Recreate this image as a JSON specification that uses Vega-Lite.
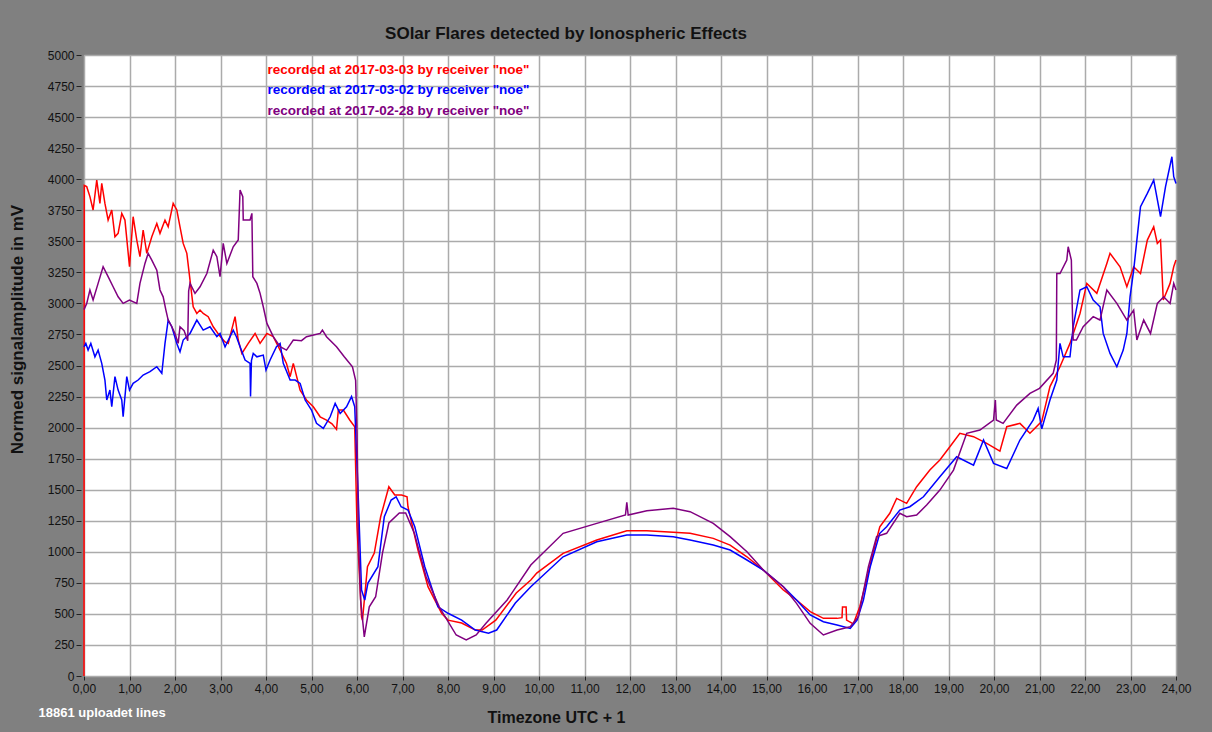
{
  "$schema": "https://vega.github.io/schema/vega-lite/v6.json",
  "autosize": "none",
  "width": 1092,
  "height": 621,
  "padding": {"left": 84, "top": 55, "right": 36, "bottom": 56},
  "background": "#808080",
  "view": {"fill": "white", "stroke": "#9a9a9a"},
  "title": {
    "text": "SOlar Flares detected by Ionospheric Effects",
    "font": "Liberation Sans", "fontSize": 17, "fontWeight": "bold", "color": "#111111",
    "anchor": "middle", "frame": "group", "dx": -64, "offset": 6
  },
  "datasets": {
    "red": [
      {"t":0,"mv":0},{"t":0.005,"mv":3950},{"t":0.06,"mv":3940},{"t":0.13,"mv":3860},{"t":0.2,"mv":3752},{"t":0.28,"mv":3993},{"t":0.35,"mv":3805},{"t":0.39,"mv":3966},{"t":0.46,"mv":3805},{"t":0.53,"mv":3671},{"t":0.61,"mv":3752},{"t":0.68,"mv":3537},{"t":0.75,"mv":3564},{"t":0.83,"mv":3725},{"t":0.9,"mv":3671},{"t":1.0,"mv":3295},{"t":1.08,"mv":3698},{"t":1.16,"mv":3510},{"t":1.23,"mv":3376},{"t":1.3,"mv":3591},{"t":1.38,"mv":3403},{"t":1.49,"mv":3537},{"t":1.6,"mv":3644},{"t":1.67,"mv":3564},{"t":1.78,"mv":3671},{"t":1.85,"mv":3617},{"t":1.96,"mv":3805},{"t":2.04,"mv":3752},{"t":2.11,"mv":3617},{"t":2.18,"mv":3483},{"t":2.26,"mv":3403},{"t":2.33,"mv":3188},{"t":2.4,"mv":2973},{"t":2.48,"mv":2919},{"t":2.55,"mv":2946},{"t":2.62,"mv":2919},{"t":2.73,"mv":2893},{"t":2.84,"mv":2812},{"t":2.99,"mv":2735},{"t":3.1,"mv":2690},{"t":3.17,"mv":2678},{"t":3.32,"mv":2893},{"t":3.39,"mv":2705},{"t":3.47,"mv":2597},{"t":3.61,"mv":2678},{"t":3.76,"mv":2758},{"t":3.87,"mv":2678},{"t":4.02,"mv":2758},{"t":4.16,"mv":2732},{"t":4.31,"mv":2624},{"t":4.45,"mv":2517},{"t":4.53,"mv":2410},{"t":4.6,"mv":2517},{"t":4.75,"mv":2302},{"t":4.89,"mv":2222},{"t":5.04,"mv":2168},{"t":5.19,"mv":2087},{"t":5.33,"mv":2061},{"t":5.45,"mv":2030},{"t":5.55,"mv":1985},{"t":5.59,"mv":2141},{"t":5.7,"mv":2141},{"t":5.84,"mv":2061},{"t":5.95,"mv":2007},{"t":6.0,"mv":1202},{"t":6.1,"mv":477},{"t":6.12,"mv":450},{"t":6.23,"mv":880},{"t":6.38,"mv":990},{"t":6.52,"mv":1282},{"t":6.7,"mv":1524},{"t":6.83,"mv":1457},{"t":6.98,"mv":1457},{"t":7.1,"mv":1443},{"t":7.12,"mv":1363},{"t":7.34,"mv":1014},{"t":7.56,"mv":719},{"t":7.86,"mv":505},{"t":8.0,"mv":450},{"t":8.3,"mv":427},{"t":8.6,"mv":370},{"t":8.75,"mv":370},{"t":9.05,"mv":450},{"t":9.5,"mv":668},{"t":9.82,"mv":773},{"t":9.95,"mv":829},{"t":10.53,"mv":988},{"t":11.27,"mv":1095},{"t":11.93,"mv":1170},{"t":12.37,"mv":1170},{"t":12.95,"mv":1157},{"t":13.32,"mv":1149},{"t":13.83,"mv":1108},{"t":14.2,"mv":1054},{"t":14.57,"mv":960},{"t":14.93,"mv":853},{"t":15.37,"mv":692},{"t":15.66,"mv":612},{"t":15.96,"mv":518},{"t":16.25,"mv":464},{"t":16.55,"mv":464},{"t":16.66,"mv":470},{"t":16.67,"mv":555},{"t":16.75,"mv":555},{"t":16.76,"mv":450},{"t":16.91,"mv":420},{"t":17.05,"mv":558},{"t":17.2,"mv":773},{"t":17.34,"mv":988},{"t":17.49,"mv":1202},{"t":17.71,"mv":1310},{"t":17.86,"mv":1430},{"t":18.08,"mv":1390},{"t":18.3,"mv":1524},{"t":18.59,"mv":1658},{"t":18.81,"mv":1739},{"t":19.03,"mv":1846},{"t":19.25,"mv":1954},{"t":19.55,"mv":1927},{"t":19.84,"mv":1873},{"t":20.13,"mv":1810},{"t":20.28,"mv":2007},{"t":20.57,"mv":2034},{"t":20.79,"mv":1954},{"t":21.05,"mv":2050},{"t":21.23,"mv":2330},{"t":21.45,"mv":2490},{"t":21.67,"mv":2678},{"t":21.89,"mv":2919},{"t":22.04,"mv":3161},{"t":22.26,"mv":3081},{"t":22.48,"mv":3322},{"t":22.55,"mv":3403},{"t":22.77,"mv":3295},{"t":22.92,"mv":3134},{"t":23.07,"mv":3295},{"t":23.22,"mv":3241},{"t":23.37,"mv":3510},{"t":23.51,"mv":3617},{"t":23.59,"mv":3483},{"t":23.66,"mv":3510},{"t":23.72,"mv":3027},{"t":23.87,"mv":3161},{"t":23.95,"mv":3295},{"t":24.0,"mv":3349}
    ],
    "blue": [
      {"t":0,"mv":2650},{"t":0.04,"mv":2678},{"t":0.09,"mv":2624},{"t":0.15,"mv":2678},{"t":0.24,"mv":2570},{"t":0.31,"mv":2624},{"t":0.39,"mv":2517},{"t":0.46,"mv":2383},{"t":0.5,"mv":2222},{"t":0.57,"mv":2302},{"t":0.61,"mv":2168},{"t":0.68,"mv":2410},{"t":0.75,"mv":2302},{"t":0.83,"mv":2222},{"t":0.86,"mv":2087},{"t":0.94,"mv":2410},{"t":1.0,"mv":2302},{"t":1.08,"mv":2356},{"t":1.19,"mv":2383},{"t":1.3,"mv":2423},{"t":1.45,"mv":2450},{"t":1.6,"mv":2490},{"t":1.71,"mv":2437},{"t":1.78,"mv":2678},{"t":1.85,"mv":2866},{"t":1.93,"mv":2812},{"t":2.04,"mv":2678},{"t":2.11,"mv":2610},{"t":2.18,"mv":2705},{"t":2.33,"mv":2758},{"t":2.48,"mv":2866},{"t":2.62,"mv":2785},{"t":2.77,"mv":2812},{"t":2.92,"mv":2732},{"t":2.99,"mv":2758},{"t":3.1,"mv":2651},{"t":3.28,"mv":2785},{"t":3.35,"mv":2732},{"t":3.43,"mv":2651},{"t":3.54,"mv":2544},{"t":3.65,"mv":2517},{"t":3.66,"mv":2250},{"t":3.68,"mv":2540},{"t":3.72,"mv":2597},{"t":3.8,"mv":2570},{"t":3.94,"mv":2584},{"t":4.0,"mv":2463},{"t":4.09,"mv":2544},{"t":4.23,"mv":2651},{"t":4.31,"mv":2678},{"t":4.38,"mv":2517},{"t":4.53,"mv":2383},{"t":4.64,"mv":2383},{"t":4.75,"mv":2356},{"t":4.86,"mv":2222},{"t":5.0,"mv":2141},{"t":5.11,"mv":2034},{"t":5.26,"mv":1994},{"t":5.41,"mv":2087},{"t":5.52,"mv":2195},{"t":5.63,"mv":2114},{"t":5.77,"mv":2168},{"t":5.88,"mv":2250},{"t":5.95,"mv":2168},{"t":6.03,"mv":1417},{"t":6.1,"mv":692},{"t":6.17,"mv":612},{"t":6.24,"mv":748},{"t":6.46,"mv":880},{"t":6.6,"mv":1282},{"t":6.75,"mv":1417},{"t":6.86,"mv":1443},{"t":6.97,"mv":1363},{"t":7.12,"mv":1336},{"t":7.27,"mv":1202},{"t":7.49,"mv":880},{"t":7.78,"mv":557},{"t":8.0,"mv":505},{"t":8.3,"mv":450},{"t":8.6,"mv":370},{"t":8.89,"mv":344},{"t":9.07,"mv":370},{"t":9.48,"mv":588},{"t":9.82,"mv":719},{"t":10.53,"mv":960},{"t":11.27,"mv":1081},{"t":11.93,"mv":1135},{"t":12.37,"mv":1135},{"t":12.95,"mv":1122},{"t":13.32,"mv":1095},{"t":13.83,"mv":1054},{"t":14.2,"mv":1014},{"t":14.57,"mv":934},{"t":14.93,"mv":853},{"t":15.37,"mv":719},{"t":15.66,"mv":612},{"t":15.96,"mv":491},{"t":16.25,"mv":437},{"t":16.55,"mv":410},{"t":16.84,"mv":383},{"t":16.99,"mv":450},{"t":17.13,"mv":612},{"t":17.28,"mv":880},{"t":17.49,"mv":1149},{"t":17.64,"mv":1202},{"t":17.93,"mv":1336},{"t":18.15,"mv":1363},{"t":18.45,"mv":1443},{"t":18.81,"mv":1604},{"t":19.18,"mv":1765},{"t":19.55,"mv":1698},{"t":19.77,"mv":1900},{"t":19.99,"mv":1712},{"t":20.28,"mv":1671},{"t":20.57,"mv":1900},{"t":20.86,"mv":2060},{"t":20.97,"mv":2155},{"t":21.05,"mv":1990},{"t":21.23,"mv":2222},{"t":21.38,"mv":2383},{"t":21.45,"mv":2678},{"t":21.52,"mv":2570},{"t":21.67,"mv":2570},{"t":21.74,"mv":2812},{"t":21.89,"mv":3108},{"t":22.04,"mv":3134},{"t":22.18,"mv":3027},{"t":22.33,"mv":2973},{"t":22.4,"mv":2758},{"t":22.55,"mv":2597},{"t":22.7,"mv":2490},{"t":22.84,"mv":2624},{"t":22.92,"mv":2758},{"t":22.99,"mv":3053},{"t":23.07,"mv":3268},{"t":23.14,"mv":3510},{"t":23.22,"mv":3778},{"t":23.37,"mv":3886},{"t":23.51,"mv":3993},{"t":23.66,"mv":3698},{"t":23.77,"mv":3940},{"t":23.91,"mv":4181},{"t":23.95,"mv":4020},{"t":24.0,"mv":3966}
    ],
    "purple": [
      {"t":0,"mv":2950},{"t":0.06,"mv":3000},{"t":0.13,"mv":3108},{"t":0.2,"mv":3027},{"t":0.31,"mv":3161},{"t":0.42,"mv":3295},{"t":0.53,"mv":3215},{"t":0.64,"mv":3134},{"t":0.75,"mv":3053},{"t":0.86,"mv":3000},{"t":1.0,"mv":3027},{"t":1.16,"mv":3000},{"t":1.23,"mv":3161},{"t":1.34,"mv":3322},{"t":1.41,"mv":3403},{"t":1.49,"mv":3349},{"t":1.6,"mv":3268},{"t":1.67,"mv":3108},{"t":1.74,"mv":3053},{"t":1.8,"mv":2946},{"t":1.85,"mv":2866},{"t":1.93,"mv":2812},{"t":2.0,"mv":2758},{"t":2.07,"mv":2678},{"t":2.11,"mv":2812},{"t":2.2,"mv":2780},{"t":2.28,"mv":2700},{"t":2.3,"mv":3100},{"t":2.33,"mv":3161},{"t":2.44,"mv":3081},{"t":2.55,"mv":3134},{"t":2.7,"mv":3241},{"t":2.84,"mv":3429},{"t":2.92,"mv":3376},{"t":2.99,"mv":3215},{"t":3.06,"mv":3483},{"t":3.14,"mv":3322},{"t":3.28,"mv":3456},{"t":3.39,"mv":3510},{"t":3.43,"mv":3913},{"t":3.49,"mv":3859},{"t":3.5,"mv":3671},{"t":3.65,"mv":3671},{"t":3.69,"mv":3725},{"t":3.71,"mv":3215},{"t":3.8,"mv":3161},{"t":3.87,"mv":3081},{"t":3.94,"mv":2973},{"t":4.02,"mv":2839},{"t":4.16,"mv":2732},{"t":4.31,"mv":2651},{"t":4.45,"mv":2624},{"t":4.6,"mv":2705},{"t":4.78,"mv":2700},{"t":4.89,"mv":2732},{"t":5.19,"mv":2758},{"t":5.24,"mv":2785},{"t":5.33,"mv":2732},{"t":5.55,"mv":2651},{"t":5.72,"mv":2570},{"t":5.9,"mv":2490},{"t":5.97,"mv":2380},{"t":6.0,"mv":1955},{"t":6.03,"mv":1150},{"t":6.08,"mv":610},{"t":6.16,"mv":315},{"t":6.27,"mv":557},{"t":6.41,"mv":638},{"t":6.56,"mv":990},{"t":6.7,"mv":1232},{"t":6.93,"mv":1312},{"t":7.07,"mv":1312},{"t":7.26,"mv":1150},{"t":7.52,"mv":797},{"t":7.81,"mv":555},{"t":8.18,"mv":330},{"t":8.4,"mv":290},{"t":8.62,"mv":330},{"t":8.84,"mv":427},{"t":9.3,"mv":612},{"t":9.82,"mv":894},{"t":10.53,"mv":1149},{"t":11.27,"mv":1229},{"t":11.9,"mv":1296},{"t":11.93,"mv":1399},{"t":11.96,"mv":1296},{"t":12.37,"mv":1331},{"t":12.95,"mv":1350},{"t":13.32,"mv":1323},{"t":13.83,"mv":1229},{"t":14.2,"mv":1122},{"t":14.57,"mv":1001},{"t":14.93,"mv":853},{"t":15.37,"mv":719},{"t":15.66,"mv":585},{"t":15.96,"mv":424},{"t":16.25,"mv":330},{"t":16.55,"mv":370},{"t":16.84,"mv":396},{"t":17.02,"mv":477},{"t":17.24,"mv":880},{"t":17.42,"mv":1122},{"t":17.64,"mv":1149},{"t":17.93,"mv":1310},{"t":18.08,"mv":1282},{"t":18.3,"mv":1296},{"t":18.52,"mv":1377},{"t":18.81,"mv":1497},{"t":19.11,"mv":1658},{"t":19.4,"mv":1954},{"t":19.69,"mv":1980},{"t":19.99,"mv":2061},{"t":20.03,"mv":2222},{"t":20.05,"mv":2061},{"t":20.2,"mv":2034},{"t":20.5,"mv":2181},{"t":20.79,"mv":2275},{"t":21.0,"mv":2316},{"t":21.3,"mv":2437},{"t":21.37,"mv":2544},{"t":21.38,"mv":3241},{"t":21.45,"mv":3241},{"t":21.6,"mv":3349},{"t":21.63,"mv":3456},{"t":21.7,"mv":3349},{"t":21.72,"mv":2973},{"t":21.74,"mv":2705},{"t":21.81,"mv":2705},{"t":21.96,"mv":2812},{"t":22.18,"mv":2893},{"t":22.33,"mv":2866},{"t":22.48,"mv":3108},{"t":22.7,"mv":3000},{"t":22.92,"mv":2866},{"t":23.07,"mv":2946},{"t":23.14,"mv":2705},{"t":23.29,"mv":2866},{"t":23.44,"mv":2758},{"t":23.59,"mv":3000},{"t":23.73,"mv":3053},{"t":23.87,"mv":3000},{"t":23.95,"mv":3161},{"t":24.0,"mv":3108}
    ],
    "note": [{"t": 0}]
  },
  "layer": [
    {
      "encoding": {
        "x": {
          "field": "t", "type": "quantitative",
          "scale": {"domain": [0, 24], "nice": false, "zero": false},
          "axis": {
            "orient": "bottom",
            "values": [0,1,2,3,4,5,6,7,8,9,10,11,12,13,14,15,16,17,18,19,20,21,22,23,24],
            "labelExpr": "replace(format(datum.value, '.2f'), '.', ',')",
            "labelFlush": false, "labelOverlap": false,
            "title": "Timezone UTC + 1",
            "titleX": 472, "titleY": 41, "titleAlign": "center", "titleBaseline": "middle",
            "titleFontSize": 16, "titleFontWeight": "bold", "titleColor": "#111111",
            "tickSize": 4, "labelPadding": 3, "domain": false
          }
        },
        "y": {
          "field": "mv", "type": "quantitative",
          "scale": {"domain": [0, 5000], "nice": false},
          "axis": {
            "values": [0,250,500,750,1000,1250,1500,1750,2000,2250,2500,2750,3000,3250,3500,3750,4000,4250,4500,4750,5000],
            "format": "d", "labelFlush": false, "labelOverlap": false,
            "title": "Normed signalamplitude in mV",
            "titleX": -64, "titleY": 274, "titleAlign": "center", "titleBaseline": "middle", "titleAngle": -90,
            "titleFontSize": 17, "titleFontWeight": "bold", "titleColor": "#111111",
            "offset": 3, "tickSize": 5, "labelPadding": 2, "domain": false
          }
        }
      },
      "layer": [
        {
          "data": {"name": "red"},
          "mark": {"type": "line", "strokeWidth": 1.5},
          "encoding": {
            "color": {
              "datum": "2017-03-03", "type": "nominal",
              "scale": {"domain": ["2017-03-03", "2017-03-02", "2017-02-28"], "range": ["#ff0000", "#0000ff", "#800080"]},
              "legend": {
                "orient": "none", "legendX": 170, "legendY": 8, "title": null,
                "symbolSize": 0, "symbolStrokeWidth": 0, "symbolOpacity": 0, "labelOffset": 0,
                "padding": 0, "rowPadding": 5.5,
                "labelFont": "Liberation Sans", "labelFontSize": 13.5, "labelFontWeight": "bold", "labelLimit": 500,
                "labelExpr": "'recorded at ' + datum.label + ' by receiver \"noe\"'",
                "encode": {"labels": {"update": {"fill": {"scale": "color", "field": "value"}}}}
              }
            }
          }
        },
        {
          "data": {"name": "blue"},
          "mark": {"type": "line", "strokeWidth": 1.5},
          "encoding": {"color": {"datum": "2017-03-02", "type": "nominal"}}
        },
        {
          "data": {"name": "purple"},
          "mark": {"type": "line", "strokeWidth": 1.5},
          "encoding": {"color": {"datum": "2017-02-28", "type": "nominal"}}
        }
      ]
    },
    {
      "data": {"name": "note"},
      "mark": {"type": "point", "opacity": 0},
      "encoding": {
        "x": {
          "field": "t", "type": "quantitative",
          "axis": {
            "orient": "bottom", "title": "18861 uploadet lines",
            "titleX": -46, "titleY": 36, "titleAlign": "left", "titleBaseline": "middle",
            "titleColor": "white", "titleFontSize": 13, "titleFontWeight": "bold",
            "labels": false, "ticks": false, "domain": false, "grid": false
          }
        }
      }
    }
  ],
  "resolve": {"axis": {"x": "independent"}},
  "config": {
    "font": "Liberation Sans",
    "axis": {
      "labelFont": "Liberation Sans", "labelFontSize": 12, "labelColor": "#111111",
      "titleFont": "Liberation Sans",
      "tickColor": "#222222", "tickWidth": 1,
      "gridColor": "#ababab", "gridWidth": 1.5, "gridOpacity": 1
    }
  }
}
